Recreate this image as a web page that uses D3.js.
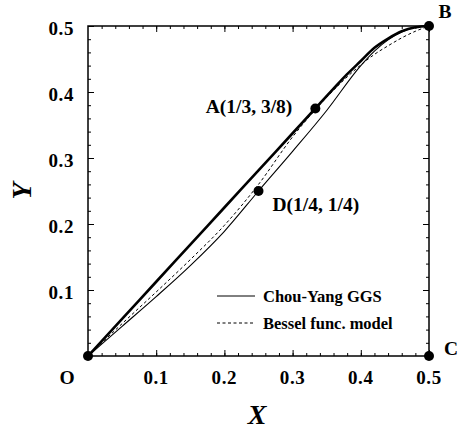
<!DOCTYPE html>
<html>
<head>
<meta charset="utf-8">
<script src="https://cdn.jsdelivr.net/npm/d3@7"></script>
<style>
  body { margin: 0; background: #fff; }
  svg text { font-family: "Liberation Serif", "Times New Roman", serif; font-weight: bold; fill: #000; }
</style>
</head>
<body>
<div id="chart"></div>
<script>
// Data
const thickX = [0, 0.05, 0.1, 0.15, 0.2, 0.25, 0.3, 0.3333, 0.36, 0.38, 0.4, 0.42, 0.44, 0.46, 0.48, 0.5];
const thickY = [0, 0.0563, 0.1125, 0.1688, 0.225, 0.2813, 0.3375, 0.375, 0.405, 0.427, 0.447, 0.467, 0.481, 0.492, 0.498, 0.5];
const thinX = [0, 0.05, 0.1, 0.15, 0.2, 0.25, 0.3, 0.35, 0.4, 0.42, 0.44, 0.46, 0.48, 0.5];
const thinY = [0, 0.045, 0.09, 0.137, 0.189, 0.25, 0.31, 0.372, 0.44, 0.462, 0.479, 0.491, 0.498, 0.5];
const besselX = [0, 0.05, 0.1, 0.15, 0.2, 0.25, 0.3, 0.35, 0.4, 0.42, 0.44, 0.46, 0.48, 0.5];
const besselY = [0, 0.049, 0.097, 0.146, 0.198, 0.26, 0.332, 0.392, 0.441, 0.457, 0.47, 0.482, 0.492, 0.5];

const pointNames = ["O", "A(1/3, 3/8)", "B", "C", "D(1/4, 1/4)"];
const pointX = [0, 1 / 3, 0.5, 0.5, 0.25];
const pointY = [0, 3 / 8, 0.5, 0, 0.25];

const majorTicks = [0.1, 0.2, 0.3, 0.4, 0.5];
const minorTicks = d3.range(0.02, 0.5, 0.02);
const legendLabels = ["Chou-Yang GGS", "Bessel func. model"];

// Layout
const width = 458, height = 432;
const margin = { left: 88, top: 26, right: 29, bottom: 76 };
const plotW = width - margin.left - margin.right;
const plotH = height - margin.top - margin.bottom;

const x = d3.scaleLinear().domain([0, 0.5]).range([0, plotW]);
const y = d3.scaleLinear().domain([0, 0.5]).range([plotH, 0]);

const svg = d3.select("#chart").append("svg")
    .attr("width", width)
    .attr("height", height);

const g = svg.append("g")
    .attr("transform", `translate(${margin.left},${margin.top})`);

// Inward ticks on all four sides
function tickAxis(axis, size, values, translate) {
  const a = axis.tickValues(values).tickSize(size).tickFormat("");
  const gg = g.append("g").attr("transform", translate).call(a);
  gg.select(".domain").remove();
  gg.selectAll(".tick line").attr("stroke", "#000").attr("stroke-width", 1);
  return gg;
}
tickAxis(d3.axisBottom(x), -6, majorTicks, `translate(0,${plotH})`);
tickAxis(d3.axisBottom(x), -3, minorTicks, `translate(0,${plotH})`);
tickAxis(d3.axisTop(x), -6, majorTicks, "translate(0,0)");
tickAxis(d3.axisTop(x), -3, minorTicks, "translate(0,0)");
tickAxis(d3.axisLeft(y), -6, majorTicks, "translate(0,0)");
tickAxis(d3.axisLeft(y), -3, minorTicks, "translate(0,0)");
tickAxis(d3.axisRight(y), -6, majorTicks, `translate(${plotW},0)`);
tickAxis(d3.axisRight(y), -3, minorTicks, `translate(${plotW},0)`);

// Frame
g.append("rect")
    .attr("width", plotW)
    .attr("height", plotH)
    .attr("fill", "none")
    .attr("stroke", "#000")
    .attr("stroke-width", 1.5);

// Tick labels
g.selectAll(".xlab").data(majorTicks).enter().append("text")
    .attr("x", d => x(d))
    .attr("y", plotH + 28)
    .attr("text-anchor", "middle")
    .style("font-size", "19px")
    .style("letter-spacing", "0.6px")
    .text(d => d3.format(".1f")(d));

g.selectAll(".ylab").data(majorTicks).enter().append("text")
    .attr("x", -14)
    .attr("y", d => y(d) + 9)
    .attr("text-anchor", "end")
    .style("font-size", "19px")
    .style("letter-spacing", "0.6px")
    .text(d => d3.format(".1f")(d));

// Axis titles
svg.append("text")
    .attr("x", 257)
    .attr("y", 424)
    .attr("text-anchor", "middle")
    .style("font-size", "28px")
    .style("font-style", "italic")
    .text("X");

svg.append("text")
    .attr("transform", "translate(31,191) rotate(-90)")
    .attr("text-anchor", "middle")
    .style("font-size", "28px")
    .style("font-style", "italic")
    .text("Y");

// Curves
const line = d3.line()
    .x(d => x(d[0]))
    .y(d => y(d[1]))
    .curve(d3.curveMonotoneX);

g.append("path")
    .datum(d3.zip(besselX, besselY))
    .attr("d", line)
    .attr("fill", "none")
    .attr("stroke", "#000")
    .attr("stroke-width", 1)
    .attr("stroke-dasharray", "3,2.5");

g.append("path")
    .datum(d3.zip(thinX, thinY))
    .attr("d", line)
    .attr("fill", "none")
    .attr("stroke", "#000")
    .attr("stroke-width", 1.1);

g.append("path")
    .datum(d3.zip(thickX, thickY))
    .attr("d", line)
    .attr("fill", "none")
    .attr("stroke", "#000")
    .attr("stroke-width", 2.6);

// Points
g.selectAll(".pt").data(d3.range(pointX.length)).enter().append("circle")
    .attr("cx", i => x(pointX[i]))
    .attr("cy", i => y(pointY[i]))
    .attr("r", 5)
    .attr("fill", "#000");

// Point labels
const labelPos = [
  { dx: -21, dy: 28, anchor: "middle" },
  { dx: -23, dy: 4, anchor: "end" },
  { dx: 16, dy: -8, anchor: "middle" },
  { dx: 22, dy: -1, anchor: "middle" },
  { dx: 14, dy: 20, anchor: "start" }
];
g.selectAll(".plab").data(d3.range(pointNames.length)).enter().append("text")
    .attr("x", i => x(pointX[i]) + labelPos[i].dx)
    .attr("y", i => y(pointY[i]) + labelPos[i].dy)
    .attr("text-anchor", i => labelPos[i].anchor)
    .style("font-size", "19.5px")
    .text(i => pointNames[i]);

// Legend
const legend = svg.append("g").attr("transform", "translate(217,296)");
legend.selectAll("line").data(legendLabels).enter().append("line")
    .attr("x1", 0).attr("x2", 38)
    .attr("y1", (d, i) => i * 27).attr("y2", (d, i) => i * 27)
    .attr("stroke", "#000")
    .attr("stroke-width", 1)
    .attr("stroke-dasharray", (d, i) => i ? "3,2.5" : null);
legend.selectAll("text").data(legendLabels).enter().append("text")
    .attr("x", 46)
    .attr("y", (d, i) => i * 27 + 6)
    .style("font-size", "16.5px")
    .text(d => d);
</script>
</body>
</html>
